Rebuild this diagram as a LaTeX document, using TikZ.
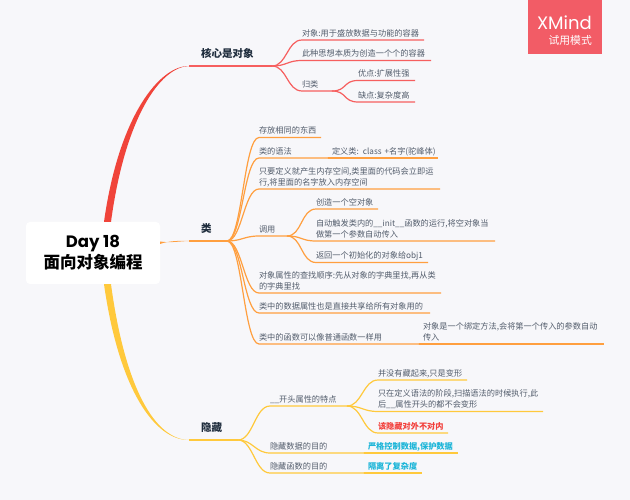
\documentclass[tikz,border=0pt]{standalone}
\usepackage{fontspec}
\setmainfont{Noto Sans CJK SC}
\newfontfamily\latinfont{Poppins}
\usetikzlibrary{positioning}
\definecolor{bgcol}{HTML}{F7F7FA}
\definecolor{textcol}{HTML}{535D6C}
\definecolor{maincol}{HTML}{1F2D3D}
\definecolor{redmain}{HTML}{F0443A}
\definecolor{redsub}{HTML}{F65F5F}
\definecolor{orangemain}{HTML}{FF9F3F}
\definecolor{yellowmain}{HTML}{FFC93C}
\definecolor{badgecol}{HTML}{F25C66}
\definecolor{hotred}{HTML}{F2403C}
\definecolor{hotcyan}{HTML}{1CB5D8}
\tikzset{
  topic/.style={anchor=south west,inner xsep=0pt,inner ysep=.3pt,outer sep=0pt,text width=#1,
    align=left,execute at end node=\strut,text=textcol,font=\fontsize{8.2}{11}\selectfont},
  maintopic/.style={anchor=south west,inner xsep=0pt,inner ysep=7.5pt,outer sep=0pt,text width=#1,
    align=left,text=maincol,font=\fontsize{10.5}{12}\selectfont\bfseries},
}
\begin{document}
\begin{tikzpicture}[x=1pt,y=-1pt]
    \useasboundingbox (0,0) rectangle (630,500);
    \fill[bgcol] (0,0) rectangle (630,500);
    \fill[badgecol] (528,0) rectangle (602,54);
    \node (brand) [text=white,anchor=east,inner sep=0pt,font=\fontsize{18}{18}\selectfont\latinfont] at (592,23) {XMind};
    \node (trial) [text=white,anchor=east,inner sep=0pt,font=\fontsize{10.8}{12}\selectfont] at (592,40) {试用模式};
    \node (day) [fill=white,rounded corners=4pt,minimum width=134pt,minimum height=62pt,inner sep=0pt,
      align=center,text=black,font=\fontsize{16.5}{21}\selectfont\bfseries] at (93,253)
      {{\latinfont Day 18}\\面向对象编程};
    % main topics
    \node (core) [maintopic=83pt] at (189,66) {\hspace*{12pt}核心是对象};
    \node (cls)  [maintopic=38pt] at (189,241) {\hspace*{12pt}类};
    \node (hide) [maintopic=49pt] at (189,440) {\hspace*{12pt}隐藏};
    % red side
    \node (c1) [topic=122pt] at (302,40) {对象:用于盛放数据与功能的容器};
    \node (c2) [topic=129pt] at (302,60.5) {此种思想本质为创造一个个的容器};
    \node (c3) [topic=30pt]  at (302,91) {归类};
    \node (c4) [topic=57pt]  at (358,80.5) {优点:扩展性强};
    \node (c5) [topic=57pt]  at (358,102) {缺点:复杂度高};
    % orange side
    \node (k1) [topic=62pt]  at (259,137.5) {存放相同的东西};
    \node (k2) [topic=73pt]  at (259,158) {类的语法};
    \node (k3) [topic=106pt] at (332,158) {定义类: class +名字(驼峰体)};
    \node (k4) [topic=181pt] at (259,189) {只要定义就产生内存空间,类里面的代码会立即运\\行,将里面的名字放入内存空间};
    \node (k5) [topic=28pt]  at (259,236) {调用};
    \node (k6) [topic=62pt]  at (316,209) {创造一个空对象};
    \node (k7) [topic=179pt] at (316,241) {自动触发类内的\_\_init\_\_函数的运行,将空对象当\\做第一个参数自动传入};
    \node (k8) [topic=112pt] at (316,262.5) {返回一个初始化的对象给obj1};
    \node (k9) [topic=182pt] at (259,293) {对象属性的查找顺序:先从对象的字典里找,再从类\\的字典里找};
    \node (k10) [topic=171pt] at (259,313) {类中的数据属性也是直接共享给所有对象用的};
    \node (k11) [topic=164pt] at (259,344) {类中的函数可以像普通函数一样用};
    \node (k12) [topic=181pt] at (423,344) {对象是一个绑定方法,会将第一个传入的参数自动\\传入};
    % yellow side
    \node (h1) [topic=77pt]  at (270,406) {\_\_开头属性的特点};
    \node (h2) [topic=89pt]  at (378,380) {并没有藏起来,只是变形};
    \node (h3) [topic=165pt] at (378,411.5) {只在定义语法的阶段,扫描语法的时候执行,此\\后\_\_属性开头的都不会变形};
    \node (h4) [topic=70pt,text=hotred,font=\fontsize{8.2}{11}\selectfont\bfseries] at (378,433) {该隐藏对外不对内};
    \node (h5) [topic=98pt]  at (270,453) {隐藏数据的目的};
    \node (h6) [topic=90pt,text=hotcyan,font=\fontsize{8.2}{11}\selectfont\bfseries] at (368,453) {严格控制数据,保护数据};
    \node (h7) [topic=98pt]  at (270,473) {隐藏函数的目的};
    \node (h8) [topic=54pt,text=hotcyan,font=\fontsize{8.2}{11}\selectfont\bfseries] at (368,473) {隔离了复杂度};
    % tapered branches
    \fill[redmain] ([xshift=11pt]day.north) .. controls (119,115) and (160,65.5) .. (core.south west)
      .. controls (160,67) and (125,118) .. ([xshift=18pt]day.north) -- cycle;
    \fill[orangemain] ([yshift=9pt]day.east) .. controls (168,241) and (178,240.6) .. (cls.south west)
      .. controls (178,241.4) and (170,243) .. ([yshift=11.5pt]day.east) -- cycle;
    \fill[yellowmain] ([xshift=11pt]day.south) .. controls (119,390) and (155,440.5) .. (hide.south west)
      .. controls (155,439.5) and (125,388) .. ([xshift=18pt]day.south) -- cycle;
    \draw[redsub,line width=1.5pt] (core.south west) -- (core.south east);
    \draw[orangemain,line width=1.5pt] (cls.south west) -- (cls.south east);
    \draw[yellowmain,line width=1.5pt] (hide.south west) -- (hide.south east);
    % sub branches
    \foreach \from/\to in {core/c1,core/c2,core/c3,c3/c4,c3/c5}
      \draw [redsub,line width=1.2pt] (\from.south east) .. controls +(15,0) and +(-15,0) .. (\to.south west) -- (\to.south east);
    \foreach \from/\to in {cls/k1,cls/k2,k2/k3,cls/k4,cls/k5,k5/k6,k5/k7,k5/k8,cls/k9,cls/k10,cls/k11,k11/k12}
      \draw [orangemain,line width=1.2pt] (\from.south east) .. controls +(15,0) and +(-15,0) .. (\to.south west) -- (\to.south east);
    \foreach \from/\to in {hide/h1,h1/h2,h1/h3,h1/h4,hide/h5,h5/h6,hide/h7,h7/h8}
      \draw [yellowmain,line width=1.2pt] (\from.south east) .. controls +(15,0) and +(-15,0) .. (\to.south west) -- (\to.south east);
\end{tikzpicture}
\end{document}
